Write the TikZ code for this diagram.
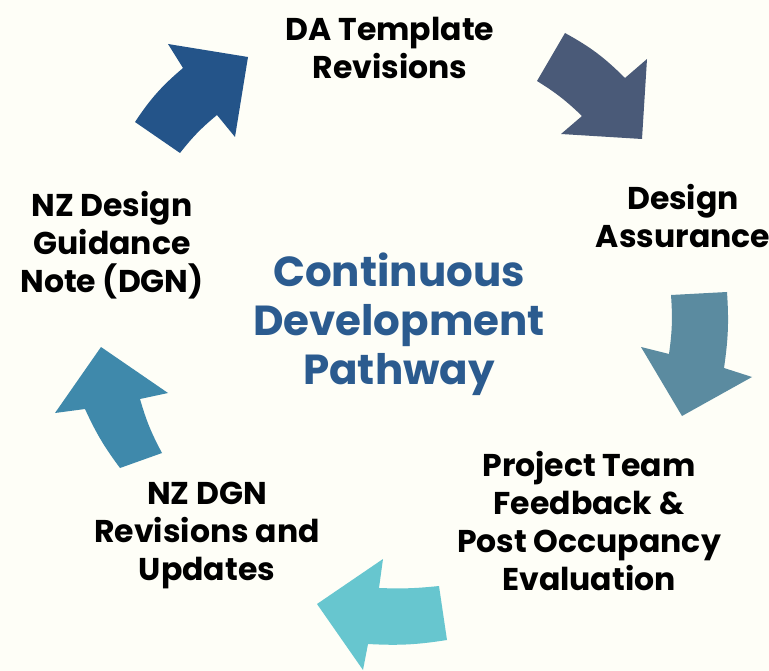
\documentclass[tikz,border=0pt]{standalone}
\usepackage{fontspec}
\setmainfont{Poppins}
\definecolor{paper}{HTML}{FEFEF7}
\definecolor{arrowA}{HTML}{245489}
\definecolor{arrowB}{HTML}{4A5A78}
\definecolor{arrowC}{HTML}{5B8BA0}
\definecolor{arrowD}{HTML}{67C6CF}
\definecolor{arrowE}{HTML}{3F89AB}
\definecolor{titleblue}{HTML}{2B5B8F}
\begin{document}
\begin{tikzpicture}[x=1pt,y=-1pt,
	stage/.style={align=center,inner sep=0,font=\fontsize{31.5}{38}\selectfont\bfseries},
	hub/.style={align=center,inner sep=0,text=titleblue,font=\fontsize{42}{49}\selectfont\bfseries}]
\fill[paper](0,0)rectangle(769,671);
\useasboundingbox(0,0)rectangle(769,671);
\fill[arrowA](135,122)to[bend left=8](183,68)--(168,44)--(248,57)--(235,137)--(217,115)to[bend right=6](180,153)--cycle;
\fill[arrowB](565,33)to[bend left=8](625,78)--(647,59)--(642,139)--(561,134)--(582,116)to[bend right=6](537,81)--cycle;
\fill[arrowC](671,295)--(727,292)to[bend left=6](724,368)--(752,377)--(682,416)--(641,347)--(669,354)to[bend right=6](671,295)--cycle;
\fill[arrowD](439,586)--(447,640)to[bend left=6](368,644)--(363,670)--(317,604)--(383,559)--(379,588)to[bend right=4](439,586)--cycle;
\fill[arrowE](120,468)to[bend left=6](85,409)--(55,413)--(101,347)--(168,393)--(140,399)to[bend right=6](162,453)--cycle;
\node[stage](dat)at(390,48){DA Template\\Revisions};
\node[stage](da)at(683,216){Design\\Assurance};
\node[stage](ptf)at(589,521){Project Team\\Feedback \&\\Post Occupancy\\Evaluation};
\node[stage](dgnrev)at(207,536){NZ DGN\\Revisions and\\Updates};
\node[stage](dgn)at(112,245){NZ Design\\Guidance\\Note (DGN)};
\node[hub](title)at(399,324){Continuous\\Development\\Pathway};
\end{tikzpicture}
\end{document}
